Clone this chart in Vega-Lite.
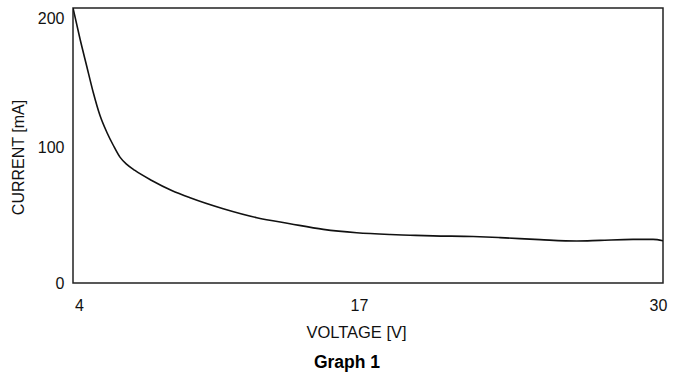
{
  "$schema": "https://vega.github.io/schema/vega-lite/v6.json",
  "width": 590,
  "height": 275,
  "autosize": {"type": "none"},
  "padding": {"left": 73, "top": 8, "right": 12, "bottom": 96},
  "background": "white",
  "config": {
    "view": {"stroke": "#222", "strokeWidth": 1.5},
    "font": "Liberation Sans, Arial, sans-serif"
  },
  "title": {
    "text": "Graph 1",
    "orient": "bottom",
    "anchor": "middle",
    "dx": -21,
    "offset": 13,
    "font": "Liberation Sans, Arial, sans-serif",
    "fontSize": 17.5,
    "fontWeight": "bold",
    "color": "#000"
  },
  "data": {
    "values": [
      {"v": 4.0, "i": 203.0},
      {"v": 4.31, "i": 180.1},
      {"v": 4.6, "i": 160.4},
      {"v": 4.89, "i": 140.8},
      {"v": 5.19, "i": 123.6},
      {"v": 5.49, "i": 111.3},
      {"v": 5.78, "i": 101.5},
      {"v": 6.07, "i": 92.9},
      {"v": 6.37, "i": 87.6},
      {"v": 6.73, "i": 83.1},
      {"v": 7.47, "i": 75.7},
      {"v": 8.35, "i": 68.3},
      {"v": 9.16, "i": 62.9},
      {"v": 10.62, "i": 54.8},
      {"v": 12.1, "i": 48.2},
      {"v": 13.56, "i": 43.8},
      {"v": 15.03, "i": 39.6},
      {"v": 16.5, "i": 37.1},
      {"v": 17.97, "i": 35.8},
      {"v": 18.85, "i": 35.3},
      {"v": 19.87, "i": 34.8},
      {"v": 21.63, "i": 34.3},
      {"v": 22.82, "i": 33.5},
      {"v": 24.58, "i": 32.0},
      {"v": 26.2, "i": 31.0},
      {"v": 27.23, "i": 31.5},
      {"v": 28.68, "i": 32.2},
      {"v": 29.56, "i": 32.2},
      {"v": 30.0, "i": 31.2}
    ]
  },
  "mark": {"type": "line", "color": "#111", "strokeWidth": 1.6, "interpolate": "monotone", "clip": true},
  "encoding": {
    "x": {
      "field": "v",
      "type": "quantitative",
      "scale": {"domain": [4, 30], "nice": false, "zero": false},
      "axis": {
        "values": [4, 17, 30],
        "title": "VOLTAGE [V]",
        "grid": false,
        "domain": false,
        "ticks": false,
        "labelFontSize": 16,
        "labelColor": "#111",
        "labelBaseline": "alphabetic",
        "labelPadding": 27,
        "labelFlush": false,
        "labelOffset": {"condition": [{"test": "datum.value == 4", "value": 6}, {"test": "datum.value == 17", "value": -9}], "value": -5},
        "titleFontSize": 16.5,
        "titleFontWeight": "normal",
        "titleColor": "#111",
        "titleX": 283,
        "titleY": 54,
        "titleBaseline": "alphabetic",
        "titleAnchor": null
      }
    },
    "y": {
      "field": "i",
      "type": "quantitative",
      "scale": {"domain": [0, 203], "nice": false},
      "axis": {
        "values": [0, 100, 200],
        "title": "CURRENT [mA]",
        "grid": false,
        "domain": false,
        "ticks": false,
        "labelFontSize": 16,
        "labelColor": "#111",
        "labelPadding": 9,
        "labelFlush": false,
        "labelOffset": {"condition": {"test": "datum.value == 200", "value": 6}, "value": 0},
        "titleFontSize": 16,
        "titleFontWeight": "normal",
        "titleColor": "#111",
        "titleAngle": -90,
        "titleX": -55,
        "titleY": 149,
        "titleBaseline": "middle",
        "titleAlign": "center"
      }
    }
  }
}
